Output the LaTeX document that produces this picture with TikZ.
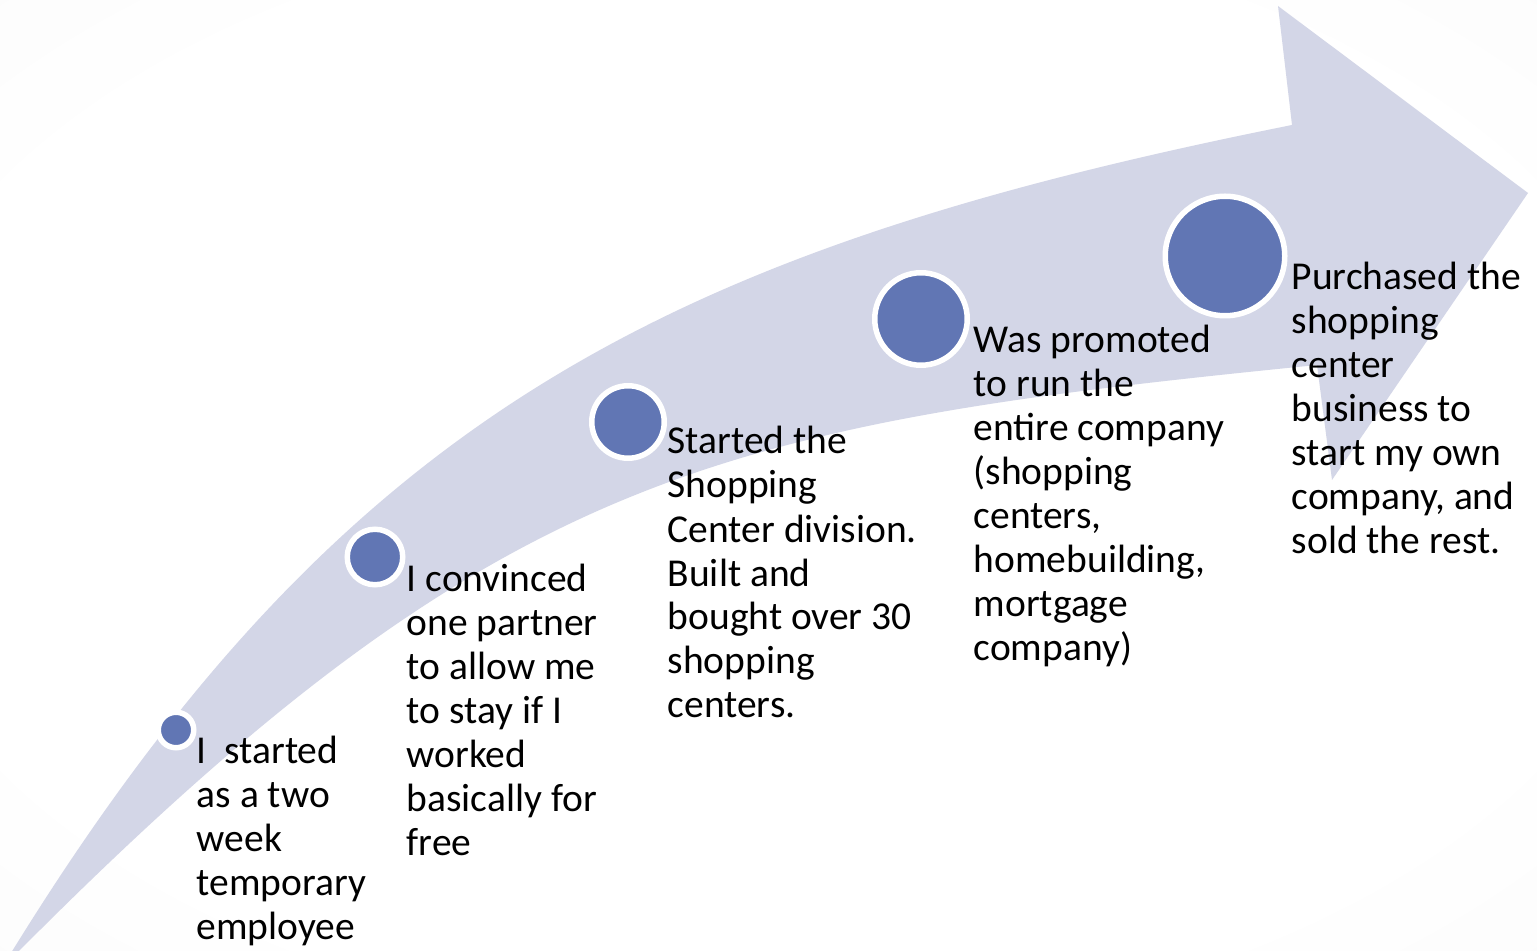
\documentclass[tikz,border=0pt]{standalone}
\usepackage{fontspec}
\setmainfont{Carlito}

\definecolor{bandgray}{RGB}{211,214,231}
\definecolor{dotblue}{RGB}{97,118,180}
\definecolor{bggray}{RGB}{240,240,240}

\pgfdeclareradialshading{slidebg}{\pgfpoint{0bp}{0bp}}{color(0bp)=(white); color(28bp)=(white); color(71bp)=(bggray)}

\tikzset{every picture/.style={line width=0.75pt}}
\tikzset{
  stage/.style={circle, fill=dotblue, draw=white, line width=2.75pt, inner sep=0pt},
  stagetext/.style={anchor=base west, align=left, inner sep=0pt, font=\fontsize{19.75}{22}\selectfont}
}

\begin{document}
\begin{tikzpicture}[x=0.5pt,y=0.5pt,yscale=-1]
\useasboundingbox (0,0) rectangle (1537,951);

%Background
\shade[shading=slidebg] (0,0) rectangle (1537,951);

%Shape: Curved Arrow
\begin{scope}
\clip (0,0) rectangle (1537,951);
\fill[bandgray] (11,953) .. controls (343,415) and (667,250) .. (1292,125) -- (1278,6) -- (1528,193) -- (1332,480) -- (1317,365) .. controls (717,425) and (497,470) .. (17,953) -- cycle;
\end{scope}

%Shape: Circles
\node[stage, minimum size=17.75pt] (s1) at (176,730) {};
\node[stage, minimum size=27.75pt] (s2) at (375,557) {};
\node[stage, minimum size=36.25pt] (s3) at (628,422) {};
\node[stage, minimum size=46.25pt] (s4) at (921,319) {};
\node[stage, minimum size=59.75pt] (s5) at (1225,256) {};

% Text Node (anchored on the last baseline)
\node[stagetext] (t1) at (196,939) {I\ \ started\\as a two\\week\\temporary\\employee};
% Text Node
\node[stagetext] (t2) at (406,855) {I convinced\\one partner\\to allow me\\to stay if I\\worked\\basically for\\free};
% Text Node
\node[stagetext] (t3) at (667,718) {Started the\\Shopping\\Center division.\\Built and\\bought over 30\\shopping\\centers.};
% Text Node
\node[stagetext] (t4) at (973,661) {Was promoted\\to run the\\entire company\\(shopping\\centers,\\homebuilding,\\mortgage\\company)};
% Text Node
\node[stagetext] (t5) at (1291,554) {Purchased the\\shopping\\center\\business to\\start my own\\company, and\\sold the rest.};

\end{tikzpicture}
\end{document}
